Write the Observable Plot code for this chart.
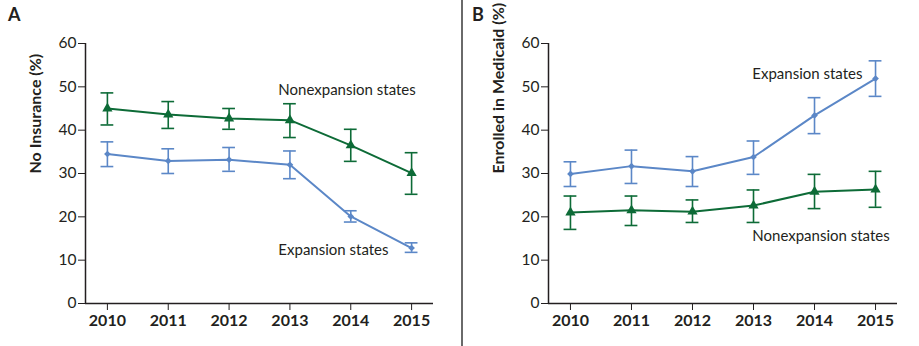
<!DOCTYPE html>
<html>
<head>
<meta charset="utf-8">
<script src="https://cdn.jsdelivr.net/npm/d3@7"></script>
<script src="https://cdn.jsdelivr.net/npm/@observablehq/plot@0.6"></script>
<style>
  html, body { margin: 0; padding: 0; background: #fff; }
  #wrap { position: relative; width: 919px; height: 346px; overflow: hidden; font-family: Lato, "Open Sans", sans-serif; color: #231f20; }
  .panel { position: absolute; top: 0; }
  .letter { position: absolute; top: 3px; font-weight: bold; font-size: 18px; }
  #divider { position: absolute; left: 461px; top: 0; width: 2px; height: 346px; background: #6a6a6a; }
</style>
</head>
<body>
<div id="wrap">
  <div class="letter" style="left:8px">A</div>
  <div class="letter" style="left:472px">B</div>
  <div id="divider"></div>
  <div id="panelA" class="panel" style="left:0px"></div>
  <div id="panelB" class="panel" style="left:460px"></div>
</div>
<script>
const years = [2010, 2011, 2012, 2013, 2014, 2015];
const yTicks = [0, 10, 20, 30, 40, 50, 60];

// Panel A: No insurance (%)
const aNonMean = [45.0, 43.6, 42.7, 42.3, 36.5, 30.1];
const aNonLo   = [41.2, 40.4, 40.2, 38.3, 32.8, 25.2];
const aNonHi   = [48.6, 46.6, 45.0, 46.1, 40.2, 34.8];
const aExpMean = [34.5, 32.9, 33.2, 32.0, 20.1, 12.8];
const aExpLo   = [31.6, 30.0, 30.5, 28.8, 18.8, 11.8];
const aExpHi   = [37.3, 35.7, 36.0, 35.2, 21.4, 14.0];

// Panel B: Enrolled in Medicaid (%)
const bExpMean = [29.9, 31.7, 30.5, 33.8, 43.4, 51.9];
const bExpLo   = [27.0, 27.7, 27.0, 29.8, 39.2, 47.8];
const bExpHi   = [32.7, 35.4, 33.9, 37.5, 47.5, 56.0];
const bNonMean = [21.0, 21.5, 21.2, 22.6, 25.8, 26.3];
const bNonLo   = [17.1, 18.0, 18.7, 18.7, 21.9, 22.2];
const bNonHi   = [24.8, 24.8, 23.9, 26.2, 29.8, 30.5];

const GREEN = "#0d6b37";
const BLUE = "#5b87c7";
const INK = "#231f20";
const CAP = 0.105; // half-width of error-bar caps, in years
const XDOM = [2009.64, 2015.36];

function series(mean, lo, hi) {
  return years.map((y, i) => ({year: y, mean: mean[i], lo: lo[i], hi: hi[i]}));
}

function seriesMarks(data, color, symbol, r) {
  return [
    Plot.ruleX(data, {x: "year", y1: "lo", y2: "hi", stroke: color, strokeWidth: 1.6}),
    Plot.ruleY(data, {y: "hi", x1: d => d.year - CAP, x2: d => d.year + CAP, stroke: color, strokeWidth: 1.6}),
    Plot.ruleY(data, {y: "lo", x1: d => d.year - CAP, x2: d => d.year + CAP, stroke: color, strokeWidth: 1.6}),
    Plot.line(data, {x: "year", y: "mean", stroke: color, strokeWidth: 2}),
    Plot.dot(data, {x: "year", y: "mean", fill: color, symbol, r})
  ];
}

function panel({width, marginLeft, marginRight, yLabel, nonData, expData, labels}) {
  return Plot.plot({
    width, height: 346,
    marginLeft, marginRight, marginTop: 43, marginBottom: 43,
    style: {fontFamily: "Lato, 'Open Sans', sans-serif", fontSize: "14px", color: INK, background: "transparent", overflow: "visible"},
    x: {domain: XDOM, axis: null},
    y: {domain: [0, 60], axis: null},
    marks: [
      Plot.axisY({ticks: yTicks, tickSize: 7, tickPadding: 2, stroke: INK, fill: INK, fontSize: 15.5, label: null}),
      Plot.axisX({ticks: years, tickFormat: d => String(d), tickSize: 7, tickPadding: 4, stroke: INK, fill: INK, fontSize: 16, fontWeight: "bold", label: null}),
      Plot.ruleX([XDOM[0]], {stroke: INK, strokeWidth: 1.5}),
      Plot.ruleY([0], {stroke: INK, strokeWidth: 1.5}),
      Plot.text([yLabel], {text: d => d, frameAnchor: "left", rotate: -90, dx: -50, fontWeight: "bold", fontSize: 16, fill: INK}),
      ...seriesMarks(expData, BLUE, "diamond2", 3),
      ...seriesMarks(nonData, GREEN, "triangle", 3.8),
      Plot.text(labels, {x: "x", y: "y", text: "text", textAnchor: "start", fontSize: 15, fill: INK})
    ]
  });
}

document.getElementById("panelA").append(panel({
  width: 460, marginLeft: 85, marginRight: 27,
  yLabel: "No Insurance (%)",
  nonData: series(aNonMean, aNonLo, aNonHi),
  expData: series(aExpMean, aExpLo, aExpHi),
  labels: [
    {x: 2012.81, y: 49.2, text: "Nonexpansion states"},
    {x: 2012.81, y: 12.3, text: "Expansion states"}
  ]
}));

document.getElementById("panelB").append(panel({
  width: 459, marginLeft: 88, marginRight: 22,
  yLabel: "Enrolled in Medicaid (%)",
  nonData: series(bNonMean, bNonLo, bNonHi),
  expData: series(bExpMean, bExpLo, bExpHi),
  labels: [
    {x: 2012.98, y: 52.9, text: "Expansion states"},
    {x: 2012.98, y: 15.5, text: "Nonexpansion states"}
  ]
}));
</script>
</body>
</html>
